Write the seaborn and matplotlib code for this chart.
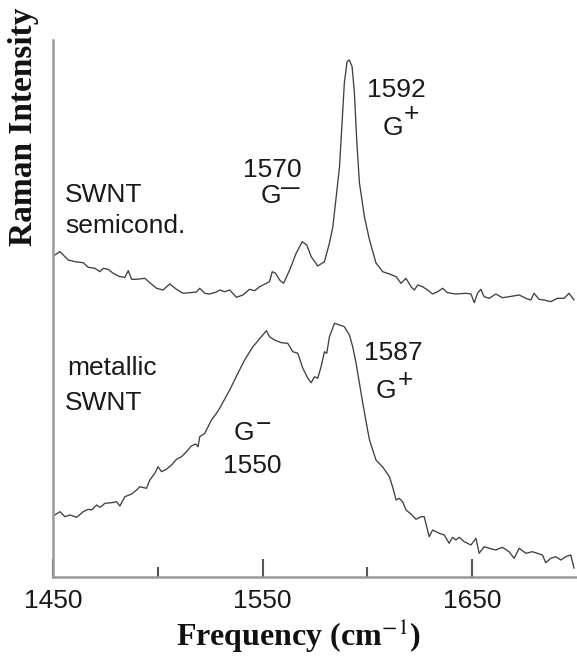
import matplotlib
matplotlib.use("Agg")
import matplotlib.pyplot as plt
import seaborn as sns
import pandas as pd

# ---- data ----
semi_freq = [1450.1, 1453.3, 1457.3, 1460.5, 1464.4, 1466.8, 1470.0, 1472.4, 1474.0, 1476.3,
             1478.7, 1481.9, 1484.3, 1485.9, 1487.5, 1489.9, 1493.8, 1496.2, 1499.4, 1502.5,
             1505.7, 1508.9, 1512.0, 1515.2, 1518.4, 1520.0, 1522.4, 1524.8, 1528.0, 1529.5,
             1531.9, 1534.3, 1537.5, 1540.6, 1543.8, 1546.2, 1548.6, 1551.8, 1553.3, 1554.6,
             1556.2, 1558.1, 1560.0, 1562.9, 1566.0, 1568.9, 1571.1, 1573.2, 1576.3, 1579.5,
             1581.9, 1583.5, 1585.1, 1586.7, 1589.0, 1590.3, 1591.4, 1592.7, 1593.8, 1594.9,
             1596.2, 1598.6, 1601.0, 1604.1, 1607.3, 1610.5, 1613.7, 1616.0, 1618.4, 1620.8,
             1622.4, 1624.0, 1626.3, 1628.7, 1631.1, 1633.5, 1635.9, 1638.2, 1642.2, 1647.0,
             1649.4, 1651.0, 1652.5, 1654.1, 1655.7, 1658.1, 1661.3, 1664.4, 1667.6, 1672.4,
             1675.6, 1678.0, 1679.5, 1681.9, 1684.3, 1687.5, 1690.6, 1693.8, 1696.2, 1698.6]
semi_int = [321.0, 325.3, 317.0, 315.3, 314.3, 309.7, 308.7, 305.3, 308.7, 307.7,
            303.7, 300.3, 299.7, 306.3, 297.7, 297.7, 298.7, 294.3, 288.7, 287.0,
            293.0, 287.7, 283.7, 284.3, 285.0, 288.7, 283.7, 283.0, 285.0, 287.0,
            285.3, 287.0, 279.7, 282.0, 287.7, 286.3, 290.3, 293.7, 295.3, 305.3,
            303.7, 297.0, 293.7, 307.0, 323.7, 335.3, 332.0, 320.3, 311.0, 315.3,
            334.0, 350.0, 380.0, 410.3, 494.0, 515.3, 517.0, 510.3, 484.0, 437.0,
            394.0, 360.0, 337.0, 314.0, 305.3, 303.0, 300.3, 293.7, 298.7, 290.3,
            287.0, 292.0, 290.3, 287.0, 283.0, 285.3, 288.7, 284.3, 283.0, 283.7,
            283.0, 274.3, 283.7, 287.7, 280.3, 278.7, 283.0, 279.3, 280.3, 282.0,
            278.7, 277.0, 283.7, 277.7, 277.0, 275.3, 278.7, 278.7, 283.7, 277.0]

metal_freq = [1450.1, 1453.3, 1455.7, 1458.1, 1461.3, 1464.4, 1466.8, 1468.4, 1470.8, 1472.4,
              1474.8, 1478.0, 1480.3, 1481.9, 1484.3, 1487.5, 1489.9, 1491.4, 1494.6, 1496.2,
              1498.6, 1500.1, 1501.8, 1504.1, 1506.5, 1508.9, 1511.3, 1513.7, 1516.0, 1518.1,
              1519.2, 1520.0, 1522.4, 1524.0, 1525.6, 1528.0, 1529.5, 1534.3, 1538.2, 1541.4,
              1545.4, 1549.4, 1551.8, 1553.3, 1555.7, 1558.9, 1562.0, 1564.4, 1566.8, 1569.2,
              1571.6, 1573.2, 1574.8, 1576.3, 1577.9, 1579.5, 1580.6, 1581.9, 1584.3, 1586.7,
              1589.0, 1591.4, 1593.0, 1594.6, 1596.2, 1597.8, 1600.1, 1601.0, 1604.1, 1607.3,
              1610.5, 1612.0, 1613.7, 1615.2, 1616.8, 1618.4, 1620.8, 1623.2, 1625.6, 1627.1,
              1628.7, 1629.5, 1631.1, 1634.3, 1636.7, 1639.0, 1640.6, 1642.2, 1643.8, 1646.2,
              1649.4, 1651.8, 1653.3, 1655.7, 1658.1, 1661.3, 1664.4, 1667.6, 1670.0, 1672.4,
              1675.6, 1678.7, 1681.1, 1683.5, 1685.1, 1687.5, 1689.9, 1692.3, 1694.6, 1697.0,
              1698.6]
metal_int = [61.0, 65.3, 60.3, 62.0, 59.7, 65.3, 67.7, 67.0, 72.0, 69.7,
             73.7, 74.3, 75.3, 71.0, 80.3, 83.0, 87.0, 90.3, 88.7, 97.0,
             103.7, 110.3, 105.3, 107.7, 112.0, 117.7, 120.3, 125.3, 131.0, 133.0,
             130.3, 140.3, 143.7, 150.3, 157.0, 163.7, 168.7, 187.0, 203.7, 217.0,
             230.3, 240.3, 246.3, 240.3, 237.0, 234.3, 233.7, 225.3, 223.7, 208.7,
             198.7, 194.3, 200.3, 198.7, 210.3, 225.3, 223.7, 240.3, 253.7, 252.0,
             250.3, 242.0, 230.3, 213.7, 193.7, 173.7, 147.0, 137.0, 117.0, 110.0,
             100.3, 90.3, 77.0, 78.7, 75.3, 67.0, 63.0, 57.7, 60.3, 60.3,
             47.0, 40.3, 47.0, 43.7, 42.0, 33.7, 39.7, 37.0, 39.7, 35.3,
             32.0, 38.7, 23.7, 30.3, 28.7, 27.0, 29.7, 25.3, 18.7, 28.7,
             23.7, 25.3, 23.7, 22.0, 14.3, 18.7, 20.3, 17.0, 20.3, 22.0,
             8.7]

major_ticks = [1450, 1550, 1650]
minor_ticks = [1500, 1600]

# ---- style ----
sns.set_style("white")
plt.rcParams["font.family"] = ["Liberation Sans", "DejaVu Sans"]
plt.rcParams["mathtext.fontset"] = "custom"
plt.rcParams["mathtext.rm"] = "Liberation Sans"
plt.rcParams["mathtext.it"] = "Liberation Sans"
plt.rcParams["mathtext.bf"] = "Liberation Sans:bold"

fig = plt.figure(figsize=(5.77, 6.56), dpi=100)
ax = fig.add_axes([53 / 577, (656 - 577) / 656, 524 / 577, (577 - 40) / 656])

line_col = "#404040"
df_semi = pd.DataFrame({"freq": semi_freq, "intensity": semi_int})
df_metal = pd.DataFrame({"freq": metal_freq, "intensity": metal_int})
sns.lineplot(data=df_semi, x="freq", y="intensity", color=line_col, lw=0.95, ax=ax)
sns.lineplot(data=df_metal, x="freq", y="intensity", color=line_col, lw=0.95, ax=ax)

ax.set_xlim(1450, 1700)
ax.set_ylim(0, 537)
ax.set_xticks(major_ticks)
ax.set_xticklabels([str(t) for t in major_ticks], fontsize=19)
ax.set_xticks(minor_ticks, minor=True)
ax.set_yticks([])
ax.tick_params(axis="x", which="both", bottom=True, top=False)
ax.tick_params(axis="x", which="major", direction="in", length=13, width=1.5,
               color="#555555", pad=9, labelcolor="#1a1a1a")
ax.tick_params(axis="x", which="minor", direction="in", length=7, width=1.5,
               color="#555555")
for s in ["top", "right"]:
    ax.spines[s].set_visible(False)
for s in ["left", "bottom"]:
    ax.spines[s].set_color("#9a9a9a")
    ax.spines[s].set_linewidth(1.8)

ax.set_xlabel("")
ax.set_ylabel("")

fig.text(298 / 577, 1 - 636 / 656, "Frequency (cm$^{-1}$)", ha="center", va="center",
         fontsize=23, fontweight="bold", family="Liberation Serif",
         math_fontfamily="stix", color="#111111")
fig.text(24 / 577, 1 - 127 / 656, "Raman Intensity", ha="center", va="center",
         rotation=90, fontsize=24, fontweight="bold", family="Liberation Serif",
         color="#111111")

tc = "#1a1a1a"
fs = 19


def glabel(x, y, sign, dy_pt, sign_fs):
    """Draw 'G' ending at x (data) with a raised sign after it."""
    ax.text(x, y, "G", fontsize=fs, ha="right", va="baseline", color=tc)
    ax.annotate(sign, xy=(x, y), xytext=(0.5, dy_pt), textcoords="offset points",
                fontsize=sign_fs, ha="left", va="baseline", color=tc)


ax.text(1455.7, 375, "SWNT", fontsize=fs, ha="left", va="baseline", color=tc)
ax.text(1455.7, 344, "semicond.", fontsize=fs, ha="left", va="baseline", color=tc)
ax.text(1568.5, 374, "1570\nG$^{\\mathbf{\u2014}}$", fontsize=fs, ha="right",
        va="baseline", multialignment="right", linespacing=1.08, color=tc)
ax.text(1614.0, 480, "1592", fontsize=fs, ha="center", va="baseline", color=tc)
glabel(1617.1, 442, "+", 10, 19)
ax.text(1457.0, 202, "metallic", fontsize=fs, ha="left", va="baseline", color=tc)
ax.text(1455.7, 167, "SWNT", fontsize=fs, ha="left", va="baseline", color=tc)
glabel(1546.2, 137, "\u2212", 6, 19)
ax.text(1545.2, 104, "1550", fontsize=fs, ha="center", va="baseline", color=tc)
ax.text(1612.4, 217, "1587", fontsize=fs, ha="center", va="baseline", color=tc)
glabel(1614.0, 179, "+", 8, 19)

fig.savefig("out.png", dpi=100)
